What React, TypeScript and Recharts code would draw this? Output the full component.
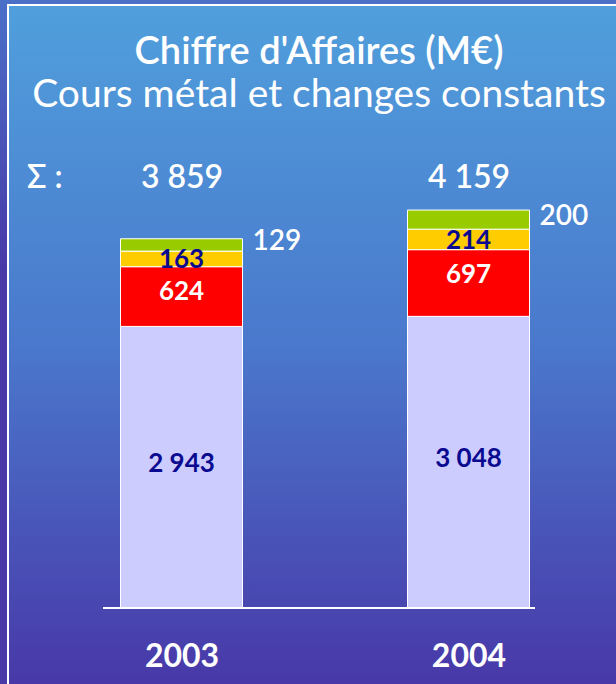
import React from 'react';
import { BarChart, Bar, XAxis, YAxis, LabelList } from 'recharts';

// Chiffre d'affaires par composante (M€)
const years = ['2003', '2004'];
const baseValues = [2943, 3048];
const redValues = [624, 697];
const yellowValues = [163, 214];
const greenValues = [129, 200];

const totals = years.map((_, i) => baseValues[i] + redValues[i] + yellowValues[i] + greenValues[i]);

const data = years.map((year, i) => ({
  pos: i,
  year,
  base: baseValues[i],
  red: redValues[i],
  yellow: yellowValues[i],
  green: greenValues[i],
}));

const FONT = 'Lato, "DejaVu Sans", sans-serif';
const NAVY = '#0a0a90';

const fmt = (v: number) => String(v).replace(/\B(?=(\d{3})+(?!\d))/g, ' ');

const App: React.FC = () => {
  return (
    <div style={{ position: 'relative', width: 616, height: 684, overflow: 'hidden', fontFamily: FONT,
      background: 'linear-gradient(to bottom, #4a70c8 0%, #4838a8 40%, #4838a8 100%)' }}>
      <style>{'body{margin:0}'}</style>
      <div style={{ position: 'absolute', left: 7, top: 4, right: 0, bottom: 0,
        borderLeft: '2px solid #ffffff', borderTop: '2px solid #ffffff',
        background: 'linear-gradient(to bottom, #509fdc 0%, #4a78cc 50%, #4838a8 100%)' }} />

      <div style={{ position: 'absolute', left: 22, width: 594, top: 28, textAlign: 'center', color: '#fff',
        fontSize: 38, lineHeight: '42px', fontWeight: 600 }}>
        Chiffre d'Affaires (M€)
      </div>
      <div style={{ position: 'absolute', left: 22, width: 594, top: 71, textAlign: 'center', color: '#fff',
        fontSize: 39, lineHeight: '42px' }}>
        Cours métal et changes constants
      </div>
      <div style={{ position: 'absolute', left: 27, top: 160, color: '#fff', fontSize: 32, lineHeight: '32px', fontWeight: 600 }}>
        Σ :
      </div>

      <div style={{ position: 'absolute', left: 0, top: 0 }}>
        <BarChart width={616} height={684} data={data} margin={{ top: 157, right: 81, bottom: 16, left: 103 }}>
          <XAxis
            dataKey="pos"
            type="number"
            domain={[-0.2753, 1.23]}
            allowDataOverflow
            ticks={[0, 1]}
            tickFormatter={(v: number) => years[v]}
            height={60}
            axisLine={{ stroke: '#ffffff', strokeWidth: 2 }}
            tickLine={false}
            tickSize={0}
            tickMargin={36}
            tick={{ fill: '#ffffff', fontSize: 32, fontWeight: 700, fontFamily: FONT }}
          />
          <XAxis
            xAxisId="top"
            orientation="top"
            dataKey="pos"
            type="number"
            domain={[-0.2753, 1.23]}
            allowDataOverflow
            ticks={[0, 1]}
            tickFormatter={(v: number) => fmt(totals[v])}
            height={30}
            axisLine={false}
            tickLine={false}
            tickSize={0}
            tickMargin={0}
            tick={{ fill: '#ffffff', fontSize: 32, fontWeight: 600, fontFamily: FONT, dy: 1 }}
          />
          <YAxis hide domain={[0, 4400]} allowDataOverflow />
          <Bar dataKey="base" stackId="a" fill="#ccccff" stroke="#ffffff" strokeWidth={1} barSize={122} isAnimationActive={false}>
            <LabelList dataKey="base" position="center" formatter={(v: number) => fmt(v)} fill={NAVY}
              fontSize={26} fontWeight={700} fontFamily={FONT} dy={-4} />
          </Bar>
          <Bar dataKey="red" stackId="a" fill="#ff0000" stroke="#ffffff" strokeWidth={1} barSize={122} isAnimationActive={false}>
            <LabelList dataKey="red" position="insideTop" offset={15} fill="#ffffff"
              fontSize={26} fontWeight={700} fontFamily={FONT} />
          </Bar>
          <Bar dataKey="yellow" stackId="a" fill="#ffcc00" stroke="#ffffff" strokeWidth={1} barSize={122} isAnimationActive={false}>
            <LabelList dataKey="yellow" position="center" fill={NAVY}
              fontSize={26} fontWeight={700} fontFamily={FONT} />
          </Bar>
          <Bar dataKey="green" stackId="a" fill="#99cc00" stroke="#ffffff" strokeWidth={1} barSize={122} isAnimationActive={false}>
            <LabelList dataKey="green" position="right" offset={10} fill="#ffffff"
              fontSize={28} fontWeight={600} fontFamily={FONT} dy={-5} />
          </Bar>
        </BarChart>
      </div>
    </div>
  );
};

export default App;
